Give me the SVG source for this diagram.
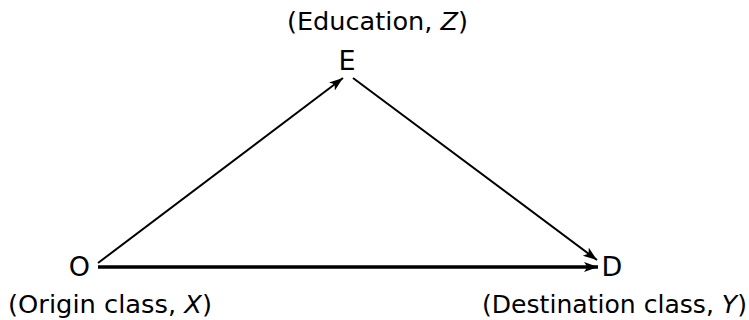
<svg xmlns="http://www.w3.org/2000/svg" width="749" height="320" viewBox="0 0 749 320">
<style>
.node{font-family:"DejaVu Sans","Liberation Sans",sans-serif;font-size:27px;fill:#000;text-anchor:middle}
.lab{font-family:"DejaVu Sans","Liberation Sans",sans-serif;font-size:24px;fill:#000}
.it{font-style:italic}
.edge{stroke:#000;fill:none;stroke-width:2}
.thick{stroke-width:3.6}
</style>
<defs>
<marker id="ah" markerUnits="userSpaceOnUse" markerWidth="16" markerHeight="12" refX="14" refY="5" orient="auto" viewBox="0 0 16 12">
<path d="M0,0 L14,5 L0,10 L3.5,5 z" fill="#000"/>
</marker>
</defs>
<g id="connectors">
<line class="edge" x1="98" y1="263" x2="343" y2="78" marker-end="url(#ah)"/>
<line class="edge" x1="353" y1="78" x2="597" y2="260" marker-end="url(#ah)"/>
<line class="edge thick" x1="98" y1="267" x2="598" y2="267" marker-end="url(#ah)"/>
</g>
<g id="nodeE">
<text class="lab" x="287" y="30" textLength="181" lengthAdjust="spacingAndGlyphs">(Education, <tspan class="it">Z</tspan>)</text>
<text class="node" x="347" y="69.5">E</text>
</g>
<g id="nodeO">
<text class="node" x="79.5" y="276">O</text>
<text class="lab" x="8" y="313" textLength="204" lengthAdjust="spacingAndGlyphs">(Origin class, <tspan class="it">X</tspan>)</text>
</g>
<g id="nodeD">
<text class="node" x="612" y="276">D</text>
<text class="lab" x="482" y="313" textLength="265" lengthAdjust="spacingAndGlyphs">(Destination class, <tspan class="it">Y</tspan>)</text>
</g>
</svg>
